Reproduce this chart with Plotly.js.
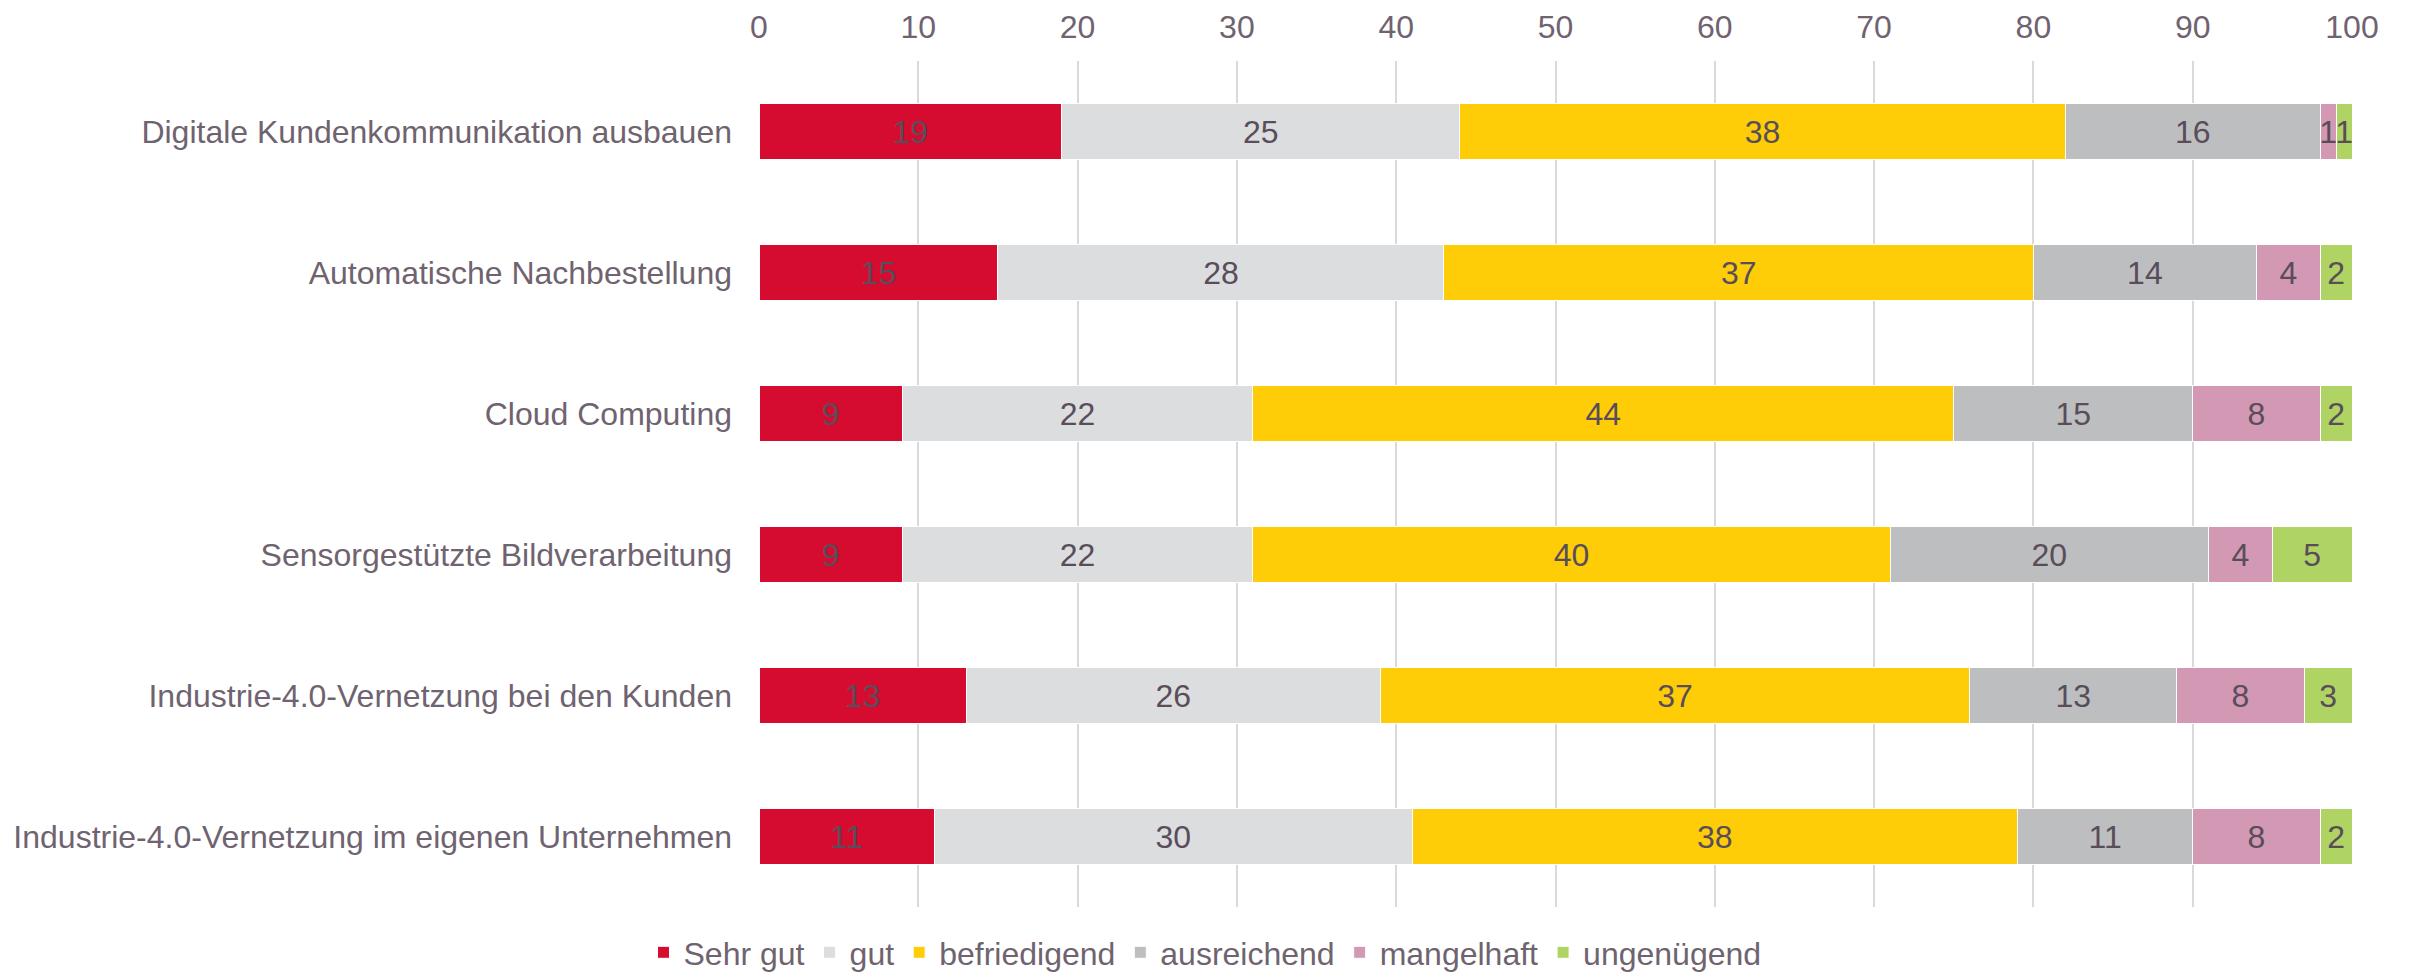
<!DOCTYPE html>
<html>
<head>
<meta charset="utf-8">
<script src="https://cdn.plot.ly/plotly-3.0.1.min.js"></script>
<style>
  html, body { margin: 0; padding: 0; background: #fff; }
  #chart { width: 2410px; height: 980px; }
</style>
</head>
<body>
<div id="chart"></div>
<script>
var categories = [
    "Digitale Kundenkommunikation ausbauen",
    "Automatische Nachbestellung",
    "Cloud Computing",
    "Sensorgestützte Bildverarbeitung",
    "Industrie-4.0-Vernetzung bei den Kunden",
    "Industrie-4.0-Vernetzung im eigenen Unternehmen"
];

var seriesNames = ["Sehr gut", "gut", "befriedigend", "ausreichend", "mangelhaft", "ungenügend"];

var sehrGut      = [19, 15,  9,  9, 13, 11];
var gut          = [25, 28, 22, 22, 26, 30];
var befriedigend = [38, 37, 44, 40, 37, 38];
var ausreichend  = [16, 14, 15, 20, 13, 11];
var mangelhaft   = [ 1,  4,  8,  4,  8,  8];
var ungenuegend  = [ 1,  2,  2,  5,  3,  2];

var xTicks = [0, 10, 20, 30, 40, 50, 60, 70, 80, 90, 100];

var colors = ["#d50c2f", "#dcdddf", "#fecd08", "#bdbec0", "#d298b4", "#b0d463"];
var allValues = [sehrGut, gut, befriedigend, ausreichend, mangelhaft, ungenuegend];

var data = seriesNames.map(function (name, i) {
    return {
        type: "bar",
        orientation: "h",
        name: name,
        y: categories,
        x: allValues[i],
        text: allValues[i].map(String),
        textposition: "inside",
        insidetextanchor: "middle",
        constraintext: "none",
        textfont: { family: "Liberation Sans, Arial, sans-serif", size: 32, color: "#594d5a" },
        marker: { color: colors[i], line: { color: "#ffffff", width: 1 } },
        hoverinfo: "x+name"
    };
});

var layout = {
    width: 2410,
    height: 980,
    barmode: "stack",
    bargap: 0.6,
    paper_bgcolor: "#ffffff",
    plot_bgcolor: "#ffffff",
    font: { family: "Liberation Sans, Arial, sans-serif", size: 32, color: "#6f6370" },
    margin: { l: 759, r: 58, t: 61, b: 73 },
    xaxis: {
        side: "top",
        range: [0, 100],
        tickvals: xTicks,
        ticks: "",
        ticklabelstandoff: 16,
        showgrid: true,
        gridcolor: "#d9d9d9",
        gridwidth: 2,
        zeroline: false,
        showline: false,
        fixedrange: true
    },
    yaxis: {
        autorange: "reversed",
        ticks: "",
        ticklabelstandoff: 26,
        showgrid: false,
        zeroline: false,
        showline: false,
        fixedrange: true
    },
    showlegend: true,
    legend: {
        orientation: "h",
        xref: "container",
        yref: "container",
        x: 0.5,
        xanchor: "center",
        y: 0,
        yanchor: "bottom",
        traceorder: "normal",
        font: { size: 32, color: "#6f6370" },
        itemwidth: 30,
        tracegroupgap: 0
    }
};

Plotly.newPlot("chart", data, layout, { displayModeBar: false, staticPlot: true });
</script>
</body>
</html>
